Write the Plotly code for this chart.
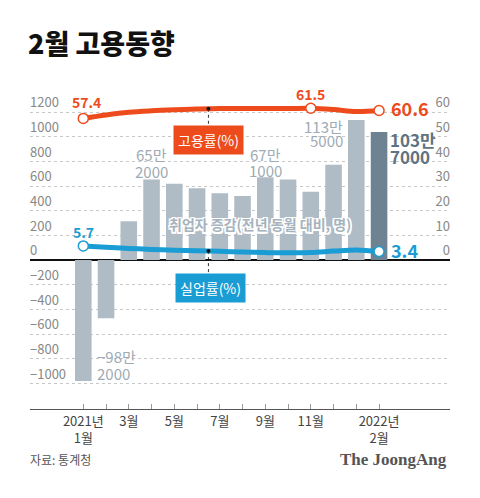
import numpy as np
import plotly.graph_objects as go

# ---------------- data ----------------
months = ["2021-01", "2021-02", "2021-03", "2021-04", "2021-05", "2021-06", "2021-07",
          "2021-08", "2021-09", "2021-10", "2021-11", "2021-12", "2022-01", "2022-02"]
job_change = [-982, -473, 314, 652, 619, 582, 542, 518, 671, 652, 553, 773, 1135, 1037]  # 천 명
emp_rate = [57.4, 58.8, 59.9, 60.5, 60.9, 61.2, 61.4, 61.4, 61.4, 61.4, 61.5, 61.0, 60.2, 60.6]
unemp_rate = [5.7, 5.2, 4.7, 4.3, 4.0, 3.7, 3.5, 3.2, 3.0, 2.9, 3.0, 3.6, 4.1, 3.4]
tick_text = ["2021년<br>1월", "", "3월", "", "5월", "", "7월", "", "9월", "", "11월", "", "", "2022년<br>2월"]
left_ticks = list(range(-1000, 1201, 200))
right_ticks = list(range(0, 61, 10))
emp_marked = [0, 10, 13]
unemp_marked = [0, 13]

ORANGE = "#ee4b1d"
BLUE = "#1a9dd4"
BAR = "#afbcc5"
BAR_DARK = "#6d8391"
FONT = "Noto Sans CJK KR"

x = list(range(len(months)))
bar_colors = [BAR] * (len(x) - 1) + [BAR_DARK]

fig = go.Figure()
fig.add_trace(go.Bar(x=x, y=job_change, marker=dict(color=bar_colors, line=dict(width=0)),
                     width=0.73, hoverinfo="skip"))
fig.add_trace(go.Scatter(x=x, y=emp_rate, yaxis="y2", mode="lines",
                         line=dict(color=ORANGE, width=5, shape="spline", smoothing=1)))
fig.add_trace(go.Scatter(x=x, y=unemp_rate, yaxis="y2", mode="lines",
                         line=dict(color=BLUE, width=5, shape="spline", smoothing=1)))
fig.add_trace(go.Scatter(x=[x[i] for i in emp_marked], y=[emp_rate[i] for i in emp_marked],
                         yaxis="y2", mode="markers",
                         marker=dict(size=10, color="white", line=dict(color=ORANGE, width=1.5))))
fig.add_trace(go.Scatter(x=[x[i] for i in unemp_marked], y=[unemp_rate[i] for i in unemp_marked],
                         yaxis="y2", mode="markers",
                         marker=dict(size=10, color="white", line=dict(color=BLUE, width=1.5))))

# leader points
lead_x = 5.5
emp_lead = float(np.interp(lead_x, x, emp_rate))
unemp_lead = float(np.interp(lead_x, x, unemp_rate))
fig.add_trace(go.Scatter(x=[lead_x, lead_x], y=[emp_lead, unemp_lead], yaxis="y2", mode="markers",
                         marker=dict(size=4, color="#111")))

shapes = [
    dict(type="line", xref="x", yref="y2", x0=lead_x, x1=lead_x, y0=emp_lead, y1=49.5,
         line=dict(color="#333", width=1, dash="dot"), layer="below"),
    dict(type="line", xref="x", yref="y2", x0=lead_x, x1=lead_x, y0=unemp_lead, y1=-6.5,
         line=dict(color="#333", width=1, dash="dot"), layer="below"),
]

ann = []
# line value labels
ann.append(dict(x=0, y=emp_rate[0], yref="y2", text=f"{emp_rate[0]}", showarrow=False,
                yshift=16, xshift=3, font=dict(size=14, color=ORANGE, family=FONT, weight="bold")))
ann.append(dict(x=10, y=emp_rate[10], yref="y2", text=f"{emp_rate[10]}", showarrow=False,
                yshift=14, font=dict(size=14, color=ORANGE, family=FONT, weight="bold")))
ann.append(dict(x=13, y=emp_rate[13], yref="y2", text=f"{emp_rate[13]}", showarrow=False,
                xanchor="left", xshift=10, yshift=3,
                font=dict(size=18, color=ORANGE, family=FONT, weight="bold")))
ann.append(dict(x=0, y=unemp_rate[0], yref="y2", text=f"{unemp_rate[0]}", showarrow=False,
                yshift=14, font=dict(size=14, color=BLUE, family=FONT, weight="bold")))
ann.append(dict(x=13, y=unemp_rate[13], yref="y2", text=f"{unemp_rate[13]}", showarrow=False,
                xanchor="left", xshift=10, yshift=2,
                font=dict(size=18, color=BLUE, family=FONT, weight="bold")))

# label boxes
ann.append(dict(x=lead_x, y=48.6, yref="y2", text="고용률(%)", showarrow=False,
                bgcolor=ORANGE, borderpad=4, font=dict(size=14, color="white", family=FONT)))
ann.append(dict(x=lead_x + 0.1, y=-11.4, yref="y2", text="실업률(%)", showarrow=False,
                bgcolor=BLUE, borderpad=4, font=dict(size=14, color="white", family=FONT)))


def man_lines(v):
    s = "−" if v < 0 else ""
    return f"{s}{abs(v) // 10}만", f"{abs(v) % 10 * 1000}"


GRAYTXT = "#9eabb4"
# bar labels: (index, xanchor, xshift, yshift line1, yshift line2, size, color, weight)
bar_label_style = [
    (0, "left", 13, 25, 8, 15, GRAYTXT, "normal"),
    (3, "center", 0, 25, 8, 15, GRAYTXT, "normal"),
    (8, "center", 0, 23, 7, 15, GRAYTXT, "normal"),
    (12, "right", -12, -6, -20, 15, GRAYTXT, "normal"),
    (13, "left", 10, -7, -24, 17, "#5f7380", "bold"),
]
for i, xa, xs, ys1, ys2, sz, col, wt in bar_label_style:
    l1, l2 = man_lines(job_change[i])
    for txt, ys in ((l1, ys1), (l2, ys2)):
        ann.append(dict(x=i, y=job_change[i], text=txt, showarrow=False, xanchor=xa,
                        yanchor="middle", xshift=xs, yshift=ys, borderpad=0,
                        font=dict(size=sz, color=col, family=FONT, weight=wt)))

halo = ", ".join(f"{dx}px {dy}px 0 white" for dx in (-1.5, 0, 1.5) for dy in (-1.5, 0, 1.5)
                 if not (dx == 0 and dy == 0))
ann.append(dict(x=7.77, y=292, text="취업자 증감(전년 동월 대비, 명)", showarrow=False,
                font=dict(size=14, color="#a6b3bc", family=FONT, weight="bold", shadow=halo)))

# footer
ann.append(dict(xref="paper", yref="paper", x=-0.005, y=-0.157, xanchor="left", yanchor="middle",
                text="자료: 통계청", showarrow=False, font=dict(size=12, color="#555", family=FONT)))
ann.append(dict(xref="paper", yref="paper", x=0.998, y=-0.157, xanchor="right", yanchor="middle",
                text="The JoongAng", showarrow=False,
                font=dict(size=17, color="#555", family="Liberation Serif", weight="bold")))

L, R, T, B = 30, 30, 85, 89
W, H = 480, 498
px_per_x = 22.75
x0 = -(83.3 - L) / px_per_x
x1 = x0 + (W - L - R) / px_per_x
zero_px = 260
y_top = (zero_px - T) * 1200 / 148
y_bot = -(H - B - zero_px) * 1200 / 148

fig.update_layout(
    width=W, height=H,
    margin=dict(l=L, r=R, t=T, b=B),
    paper_bgcolor="white", plot_bgcolor="white",
    showlegend=False,
    bargap=0.27,
    font=dict(family=FONT),
    title=dict(text="2월 고용동향", x=28 / W, xanchor="left", xref="container",
               y=1 - 45 / H, yanchor="middle", yref="container",
               font=dict(size=27, color="#111", family=FONT, weight=900)),
    xaxis=dict(range=[x0, x1], tickvals=x, ticktext=tick_text, showgrid=False, zeroline=False,
               showline=True, linecolor="#555", linewidth=1, ticks="inside", ticklen=5,
               tickcolor="#999", tickfont=dict(size=13, color="#444", family=FONT)),
    yaxis=dict(range=[y_bot, y_top], tickvals=left_ticks, ticklabelposition="inside top",
               ticklabelstandoff=-3,
               showgrid=True, gridcolor="#c8c8c8", griddash="dot", gridwidth=1,
               zeroline=True, zerolinecolor="#111", zerolinewidth=1.5, ticks="",
               tickfont=dict(size=13, color="#888", family=FONT)),
    yaxis2=dict(range=[y_bot / 20, y_top / 20], tickvals=right_ticks, overlaying="y", side="right",
                ticklabelposition="inside top", ticklabelstandoff=-3,
                showgrid=False, zeroline=False, ticks="",
                tickfont=dict(size=13, color="#888", family=FONT)),
    shapes=shapes,
    annotations=ann,
)

fig.write_html("out.html", config={"displayModeBar": False},
               post_script="document.body.style.margin='0';")
